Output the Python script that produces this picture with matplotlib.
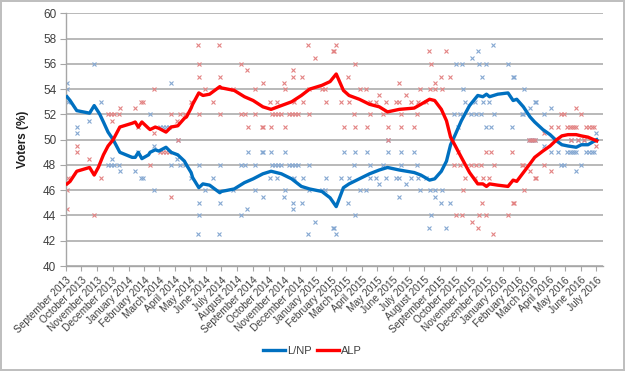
import matplotlib
matplotlib.use('Agg')
import matplotlib.pyplot as plt
import pandas as pd
from matplotlib.lines import Line2D

plt.rcParams['font.family'] = ['Liberation Sans', 'DejaVu Sans']

# ---------------- data ----------------
trend_dates = ["2013-09-03", "2013-09-09", "2013-09-22", "2013-10-17", "2013-10-26", "2013-11-03",
               "2013-11-06", "2013-11-13", "2013-11-22", "2013-12-02", "2013-12-15", "2014-01-08",
               "2014-01-14", "2014-01-20", "2014-01-27", "2014-02-09", "2014-02-12", "2014-02-22",
               "2014-03-01", "2014-03-15", "2014-03-25", "2014-04-07", "2014-04-20", "2014-04-24",
               "2014-05-03", "2014-05-06", "2014-05-18", "2014-05-26", "2014-06-08", "2014-06-28",
               "2014-07-01", "2014-07-26", "2014-08-15", "2014-09-01", "2014-09-20", "2014-10-06",
               "2014-10-26", "2014-11-15", "2014-12-04", "2014-12-20", "2015-01-13", "2015-01-29",
               "2015-02-10", "2015-02-24", "2015-03-07", "2015-03-27", "2015-04-16", "2015-05-05",
               "2015-05-21", "2015-06-13", "2015-07-12", "2015-07-25", "2015-08-11", "2015-08-21",
               "2015-09-03", "2015-09-13", "2015-09-21", "2015-09-29", "2015-10-12", "2015-10-28",
               "2015-11-13", "2015-11-23", "2015-11-30", "2015-12-06", "2015-12-22", "2016-01-11",
               "2016-01-21", "2016-01-28", "2016-02-10", "2016-02-23", "2016-03-03", "2016-03-19",
               "2016-04-02", "2016-04-15", "2016-04-25", "2016-05-07", "2016-05-23", "2016-06-02",
               "2016-06-15", "2016-07-02"]
trend_lnp = [53.4, 53.1, 52.3, 52.1, 52.7, 52.2, 52.0, 51.4, 50.6, 50.0, 49.0, 48.6,
             48.6, 49.0, 48.5, 48.8, 49.0, 49.2, 49.1, 49.4, 49.0, 48.8, 48.3, 48.0,
             47.4, 47.0, 46.2, 46.5, 46.4, 45.8, 45.9, 46.1, 46.6, 46.9, 47.3, 47.5,
             47.3, 46.9, 46.3, 46.1, 45.9, 45.4, 44.7, 46.2, 46.5, 46.9, 47.3, 47.6,
             47.8, 47.6, 47.4, 47.2, 46.8, 46.9, 47.5, 48.3, 49.6, 50.3, 51.5, 52.7,
             53.5, 53.4, 53.6, 53.4, 53.6, 53.7, 53.1, 53.2, 52.6, 51.8, 51.4, 50.8,
             50.4, 49.9, 49.6, 49.5, 49.4, 49.6, 49.6, 50.0]
trend_alp = [46.5, 46.7, 47.5, 47.8, 47.2, 47.8, 48.1, 48.8, 49.5, 50.0, 51.0, 51.3,
             51.4, 51.0, 51.4, 50.9, 50.8, 51.0, 50.9, 50.6, 51.0, 51.1, 51.7, 51.8,
             52.5, 52.8, 53.7, 53.5, 53.6, 54.2, 54.1, 53.9, 53.4, 53.1, 52.6, 52.4,
             52.7, 53.0, 53.5, 54.0, 54.3, 54.6, 55.2, 53.9, 53.5, 53.2, 52.8, 52.6,
             52.2, 52.4, 52.5, 52.8, 53.2, 53.1, 52.4, 51.5, 50.2, 49.6, 48.6, 47.4,
             46.5, 46.5, 46.3, 46.5, 46.4, 46.3, 46.8, 46.7, 47.4, 48.1, 48.6, 49.1,
             49.5, 50.0, 50.3, 50.4, 50.4, 50.3, 50.2, 49.9]

poll_dates = ["2013-09-02", "2013-09-03", "2013-09-04", "2013-09-22", "2013-09-23", "2013-10-16",
              "2013-10-25", "2013-11-09", "2013-11-22", "2013-11-28", "2013-11-29", "2013-12-04",
              "2013-12-14", "2013-12-15", "2014-01-14", "2014-01-20", "2014-01-25", "2014-01-29",
              "2014-02-12", "2014-02-19", "2014-02-20", "2014-03-03", "2014-03-09", "2014-03-15",
              "2014-03-21", "2014-03-24", "2014-03-25", "2014-04-05", "2014-04-08", "2014-04-12",
              "2014-04-22", "2014-05-03", "2014-05-17", "2014-05-18", "2014-05-18", "2014-05-19",
              "2014-05-31", "2014-06-14", "2014-06-27", "2014-06-28", "2014-06-29", "2014-07-23",
              "2014-08-08", "2014-08-09", "2014-08-16", "2014-08-20", "2014-08-21", "2014-09-04",
              "2014-09-05", "2014-09-19", "2014-09-20", "2014-09-21", "2014-10-04", "2014-10-05",
              "2014-10-08", "2014-10-14", "2014-10-18", "2014-10-20", "2014-10-26", "2014-11-01",
              "2014-11-02", "2014-11-03", "2014-11-10", "2014-11-16", "2014-11-17", "2014-11-18",
              "2014-11-19", "2014-11-22", "2014-11-28", "2014-12-06", "2014-12-07", "2014-12-17",
              "2014-12-18", "2014-12-19", "2014-12-30", "2015-01-13", "2015-01-20", "2015-01-22",
              "2015-02-04", "2015-02-06", "2015-02-09", "2015-02-20", "2015-02-25", "2015-03-05",
              "2015-03-06", "2015-03-16", "2015-03-18", "2015-03-19", "2015-03-29", "2015-04-09",
              "2015-04-11", "2015-04-16", "2015-04-17", "2015-04-29", "2015-05-05", "2015-05-12",
              "2015-05-19", "2015-05-22", "2015-05-21", "2015-06-06", "2015-06-13", "2015-06-12",
              "2015-06-16", "2015-06-17", "2015-06-27", "2015-07-05", "2015-07-12", "2015-07-17",
              "2015-07-20", "2015-07-24", "2015-08-04", "2015-08-11", "2015-08-10", "2015-08-14",
              "2015-08-22", "2015-08-21", "2015-09-04", "2015-09-03", "2015-09-12", "2015-09-19",
              "2015-09-28", "2015-10-02", "2015-10-06", "2015-10-10", "2015-10-14", "2015-10-16",
              "2015-10-20", "2015-10-31", "2015-11-01", "2015-11-08", "2015-11-09", "2015-11-13",
              "2015-11-15", "2015-11-20", "2015-11-21", "2015-11-23", "2015-11-29", "2015-11-30",
              "2015-12-05", "2015-12-08", "2015-12-12", "2015-12-14", "2016-01-11", "2016-01-18",
              "2016-01-20", "2016-01-22", "2016-02-08", "2016-02-10", "2016-02-11", "2016-02-20",
              "2016-02-23", "2016-02-24", "2016-02-28", "2016-03-03", "2016-03-04", "2016-03-06",
              "2016-03-21", "2016-03-22", "2016-04-03", "2016-04-04", "2016-04-17", "2016-04-24",
              "2016-04-30", "2016-05-06", "2016-05-10", "2016-05-12", "2016-05-14", "2016-05-18",
              "2016-05-22", "2016-05-23", "2016-05-26", "2016-06-01", "2016-06-08", "2016-06-12",
              "2016-06-17", "2016-06-22", "2016-06-24", "2016-06-27", "2016-07-01"]
poll_lnp = [54.5, 54.0, 53.0, 51.0, 50.5, 51.5,
            56.0, 53.0, 48.0, 48.0, 48.5, 48.0,
            48.0, 47.5, 47.5, 49.0, 47.0, 47.0,
            52.0, 46.0, 49.5, 51.0, 51.0, 51.0,
            51.0, 54.5, 48.0, 48.5, 50.0, 48.0,
            48.0, 47.0, 42.5, 44.0, 45.0, 48.0,
            46.0, 47.0, 42.5, 45.0, 48.0, 46.0,
            44.0, 48.0, 48.0, 44.5, 49.0, 46.0,
            48.0, 49.0, 45.5, 49.0, 47.0, 49.0,
            48.0, 48.0, 47.0, 48.0, 48.0, 45.5,
            49.0, 46.0, 48.0, 48.0, 44.5, 45.0,
            47.0, 48.0, 48.0, 45.0, 47.0, 42.5,
            48.0, 46.0, 43.5, 46.0, 46.0, 47.0,
            43.0, 43.0, 42.5, 47.0, 49.0, 45.0,
            47.0, 48.0, 44.0, 49.0, 46.0, 46.0,
            49.0, 47.0, 48.0, 47.0, 46.5, 48.0,
            47.0, 49.0, 50.0, 47.0, 45.5, 47.0,
            49.0, 48.0, 46.5, 47.0, 49.0, 48.0,
            47.0, 46.0, 47.0, 46.0, 43.0, 44.0,
            46.0, 45.5, 46.0, 45.0, 43.0, 45.0,
            52.0, 56.0, 51.0, 52.0, 56.0, 54.0,
            53.0, 52.0, 56.5, 53.0, 52.0, 57.0,
            56.0, 52.0, 55.0, 53.0, 56.0, 51.0,
            53.0, 51.0, 57.5, 52.0, 56.0, 51.0,
            55.0, 55.0, 52.0, 52.0, 54.0, 50.0,
            52.5, 50.0, 50.0, 53.0, 50.0, 53.0,
            49.5, 52.0, 52.5, 49.0, 49.0, 48.0,
            48.0, 49.0, 49.0, 50.0, 49.0, 49.0,
            47.5, 49.0, 50.0, 48.0, 50.0, 49.0,
            49.0, 49.0, 50.0, 49.0, 50.5]
poll_alp = [44.5, 46.0, 47.0, 49.0, 49.5, 48.5,
            44.0, 47.0, 52.0, 52.0, 51.5, 52.0,
            52.0, 52.5, 52.5, 51.0, 53.0, 53.0,
            48.0, 54.0, 50.5, 49.0, 49.0, 49.0,
            49.0, 45.5, 52.0, 51.5, 50.0, 52.0,
            52.0, 53.0, 57.5, 56.0, 55.0, 52.0,
            54.0, 53.0, 57.5, 55.0, 52.0, 54.0,
            56.0, 52.0, 52.0, 55.5, 51.0, 54.0,
            52.0, 51.0, 54.5, 51.0, 53.0, 51.0,
            52.0, 52.0, 53.0, 52.0, 52.0, 54.5,
            51.0, 54.0, 52.0, 52.0, 55.5, 55.0,
            53.0, 52.0, 52.0, 55.0, 53.0, 57.5,
            52.0, 54.0, 56.5, 54.0, 54.0, 53.0,
            57.0, 57.0, 57.5, 53.0, 51.0, 55.0,
            53.0, 52.0, 56.0, 51.0, 54.0, 54.0,
            51.0, 53.0, 52.0, 53.0, 53.5, 52.0,
            53.0, 51.0, 50.0, 53.0, 54.5, 53.0,
            51.0, 52.0, 53.5, 53.0, 51.0, 52.0,
            53.0, 54.0, 53.0, 54.0, 57.0, 56.0,
            54.0, 54.5, 54.0, 55.0, 57.0, 55.0,
            48.0, 44.0, 49.0, 48.0, 44.0, 46.0,
            47.0, 48.0, 43.5, 47.0, 48.0, 43.0,
            44.0, 48.0, 45.0, 47.0, 44.0, 49.0,
            47.0, 49.0, 42.5, 48.0, 44.0, 49.0,
            45.0, 45.0, 48.0, 48.0, 46.0, 50.0,
            47.5, 50.0, 50.0, 47.0, 50.0, 47.0,
            50.5, 48.0, 47.5, 51.0, 51.0, 52.0,
            52.0, 51.0, 51.0, 50.0, 51.0, 51.0,
            52.5, 51.0, 50.0, 52.0, 50.0, 51.0,
            51.0, 51.0, 50.0, 51.0, 49.5]

series_names = ["L/NP", "ALP"]
yticks = list(range(40, 61, 2))
x_start, x_end = "2013-09-01", "2016-07-14"
tick_start, tick_end = "2013-09-01", "2016-07-01"

# ---------------- plot ----------------
BLUE = "#0070C0"
RED = "#FF0000"
BLUE_M = "#85A8D2"
RED_M = "#E38383"
GRID = "#A6A6A6"
TXT = "#404040"

fig = plt.figure(figsize=(6.25, 3.71), dpi=100)
fig.patch.set_facecolor("white")
fig.patch.set_edgecolor("#BFBFBF")
fig.patch.set_linewidth(1.5)
ax = fig.add_axes([0.1056, 0.283, 0.859, 0.681])

td = pd.to_datetime(trend_dates)
pdts = pd.to_datetime(poll_dates)

ax.plot(pdts, poll_lnp, linestyle="none", marker="x", ms=3.3, mew=0.8, color=BLUE_M, zorder=2)
ax.plot(pdts, poll_alp, linestyle="none", marker="x", ms=3.3, mew=0.8, color=RED_M, zorder=2)
ax.plot(td, trend_lnp, color=BLUE, lw=2.4, zorder=4, solid_joinstyle="round")
ax.plot(td, trend_alp, color=RED, lw=2.4, zorder=4, solid_joinstyle="round")

ax.set_xlim(pd.Timestamp(x_start), pd.Timestamp(x_end))
ax.set_ylim(40, 60)
ax.set_yticks(yticks)
ax.yaxis.grid(True, color=GRID, lw=1.1)
ax.set_axisbelow(True)

months = pd.date_range(tick_start, tick_end, freq="MS")
ax.set_xticks(months)
ax.set_xticklabels([m.strftime("%B %Y") for m in months], rotation=45, ha="right",
                   rotation_mode="anchor", fontsize=7.3, color=TXT)
ax.tick_params(axis="x", length=3.5, color=GRID, pad=3)
ax.tick_params(axis="y", length=4, color=GRID, labelsize=8.5, pad=3, labelcolor=TXT)

for s in ["top", "right"]:
    ax.spines[s].set_visible(False)
for s in ["left", "bottom"]:
    ax.spines[s].set_color(GRID)
    ax.spines[s].set_linewidth(1.0)

ax.set_ylabel("Voters (%)", fontsize=8.5, fontweight="bold", labelpad=10, color="#202020")

handles = [Line2D([0], [0], color=BLUE, lw=2.4), Line2D([0], [0], color=RED, lw=2.4)]
fig.legend(handles, series_names, loc="center", bbox_to_anchor=(0.5, 0.054), ncol=2,
           frameon=False, fontsize=8, handlelength=2.0, columnspacing=0.4, handletextpad=0.2,
           labelcolor=TXT)

fig.savefig("out.png", dpi=100, facecolor=fig.get_facecolor(), edgecolor=fig.get_edgecolor())
